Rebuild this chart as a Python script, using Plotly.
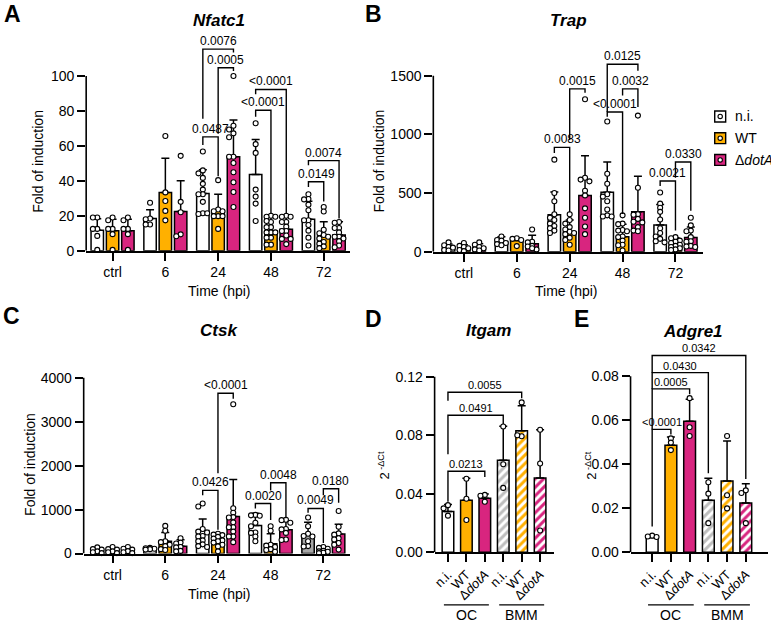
import plotly.graph_objects as go

W, H = 771, 628
FONT = "Liberation Sans, Arial, Helvetica, sans-serif"
ORANGE = "#FFB000"
PINK = "#D8257F"
GREY = "#A7A7A7"
HATCH_GREY = "#BEBEBE"

# ---------------- data ----------------
time_labels = ["ctrl", "6", "24", "48", "72"]
series_labels = ["n.i.", "WT", "Δ<i>dotA</i>"]
cond_labels = ["n.i.", "WT", "Δ<i>dotA</i>", "n.i.", "WT", "Δ<i>dotA</i>"]
cell_groups = ["OC", "BMM"]

# A: Nfatc1
nfatc1_ni_mean = [11.8, 18.5, 32.8, 43.6, 18.1]
nfatc1_ni_sd = [6.5, 5.0, 13.6, 20.0, 10.2]
nfatc1_wt_mean = [11.5, 33.4, 23.0, 11.3, 8.7]
nfatc1_wt_sd = [6.5, 19.6, 9.3, 9.1, 7.9]
nfatc1_dota_mean = [11.5, 22.5, 53.8, 12.3, 9.0]
nfatc1_dota_sd = [6.5, 17.5, 21.1, 8.1, 7.6]
nfatc1_ni_pts = [[19, 19, 12.5, 12.5, 8.5, 0.5], [27.5, 18.5, 18, 15, 15],
                 [56.8, 46, 44.3, 41.7, 38.3, 35, 32.3, 32.3, 28, 21.5, 21, 21.5],
                 [73, 61, 56, 35, 31, 27, 17],
                 [32.3, 29.6, 29.4, 26.4, 23.2, 17.5, 17.5, 14.7, 11.5, 7.5, 3]]
nfatc1_wt_pts = [[19, 17.5, 12.5, 12.5, 9.5, 0.5], [65.7, 33.4, 28.5, 22.8, 17.4],
                 [40.4, 23.6, 22.6, 22.6, 19.8, 19.8, 19.8, 12.5],
                 [20, 19.5, 19.5, 16.5, 17, 13.5, 13.5, 10.5, 10.5, 10.5, 7.5, 7.5, 3.5, 3.5],
                 [25, 22.5, 12, 10, 9, 8, 7, 5, 4, 2.5, 1.5]]
nfatc1_dota_pts = [[19, 17.5, 12.5, 12.5, 9.5, 0.5], [54.3, 28, 22, 9.4, 8.3],
                   [100, 71.5, 69.4, 67.2, 65, 53.8, 53.8, 50.2, 44.9, 39.2, 33.6, 25],
                   [20, 19.5, 19.5, 16.5, 16.5, 13.8, 11.3, 11.3, 8.7, 6.8, 6.8, 3.8],
                   [16.5, 16, 13, 13, 10.5, 8, 8, 7, 5.5, 3, 2]]
# (time index, bar i, bar j, level, leg bottom i, leg bottom j, p)
nfatc1_stats = [(2, 0, 2, 115.4, 75.6, 113.5, "0.0076"),
                (2, 1, 2, 104.7, 67.0, 102.8, "0.0005"),
                (2, 0, 1, 65.2, 60.5, 42.7, "0.0487"),
                (3, 0, 2, 92.3, 89.6, 21.2, "<0.0001"),
                (3, 0, 1, 80.4, 76.7, 21.2, "<0.0001"),
                (4, 0, 2, 51.6, 49.0, 18.5, "0.0074"),
                (4, 0, 1, 39.5, 36.5, 28.2, "0.0149")]

# B: Trap
trap_ni_mean = [40, 87, 315, 507, 228]
trap_ni_sd = [25, 40, 195, 257, 175]
trap_wt_mean = [35, 95, 170, 127, 58]
trap_wt_sd = [25, 20, 100, 107, 62]
trap_dota_mean = [38, 68, 480, 341, 121]
trap_dota_sd = [30, 72, 338, 302, 90]
trap_ni_pts = [[80, 55, 40, 35, 15, 10], [130, 100, 95, 75, 65, 55],
               [785, 500, 430, 320, 290, 270, 240, 220, 200, 180, 160],
               [1110, 665, 580, 490, 470, 430, 360, 310, 300, 300],
               [505, 410, 375, 340, 275, 200, 160, 130, 110, 90, 80]]
trap_wt_pts = [[75, 50, 40, 30, 15, 5], [115, 110, 100, 48],
               [320, 270, 240, 210, 190, 170, 160, 150, 120, 100, 60],
               [310, 240, 235, 185, 180, 175, 130, 125, 95, 60, 55, 10],
               [125, 115, 95, 85, 75, 60, 50, 40, 30, 20, 15]]
trap_dota_pts = [[80, 60, 40, 30, 20, 10], [190, 85, 80, 50, 45, 20, 30],
                 [1300, 630, 615, 600, 520, 480, 370, 290, 215, 150],
                 [1160, 545, 320, 315, 280, 255, 250, 210, 180, 175],
                 [290, 225, 180, 175, 125, 90, 85, 50, 45, 40]]
trap_stats = [(2, 0, 1, 889, 841, 336, "0.0083"),
              (2, 1, 2, 1388, 953, 1354, "0.0015"),
              (3, 0, 2, 1598, 1191, 1542, "0.0125"),
              (3, 1, 2, 1388, 1332, 1234, "0.0032"),
              (3, 0, 1, 1191, 1150, 322, "<0.0001"),
              (4, 0, 1, 603, 561, 182, "0.0021"),
              (4, 1, 2, 765, 631, 350, "0.0330")]

# C: Ctsk
ctsk_ni_mean = [70, 110, 524, 639, 414]
ctsk_ni_sd = [50, 20, 263, 278, 298]
ctsk_wt_mean = [70, 278, 300, 225, 70]
ctsk_wt_sd = [50, 203, 120, 225, 60]
ctsk_dota_mean = [75, 165, 842, 541, 443]
ctsk_dota_sd = [50, 150, 842, 188, 226]
ctsk_ni_pts = [[140, 100, 90, 50, 30, 10], [130, 120, 110, 100, 90],
               [1140, 1070, 560, 500, 480, 400, 390, 300, 280, 210, 170, 150],
               [880, 870, 860, 700, 620, 480, 470, 390, 280],
               [820, 620, 450, 400, 390, 280, 170, 160]]
ctsk_wt_pts = [[150, 100, 90, 50, 30, 10], [630, 520, 280, 260, 200, 170, 100, 80],
               [450, 430, 420, 380, 340, 300, 280, 250, 200, 160, 50],
               [620, 520, 200, 180, 150, 100, 80, 40],
               [150, 130, 110, 60, 50, 40, 20, 10]]
ctsk_dota_pts = [[150, 110, 90, 55, 30, 10], [350, 250, 230, 150, 140, 60, 50],
                 [3400, 1030, 930, 830, 820, 710, 600, 600, 500, 390, 390, 260],
                 [770, 760, 700, 560, 550, 470, 320, 310],
                 [970, 610, 460, 430, 350, 320, 240, 200, 90]]
ctsk_stats = [(2, 1, 2, 3649, 1829, 3521, "<0.0001"),
              (2, 0, 1, 1438, 1326, 540, "0.0426"),
              (3, 0, 1, 1139, 1026, 764, "0.0020"),
              (3, 1, 2, 1611, 1438, 802, "0.0048"),
              (4, 0, 1, 1027, 930, 240, "0.0049"),
              (4, 1, 2, 1476, 1326, 1155, "0.0180")]

# D: Itgam (2^-dCt)
itgam_mean = [0.0279, 0.0355, 0.0369, 0.0629, 0.0831, 0.0508]
itgam_sd = [0.0047, 0.0151, 0.0029, 0.0232, 0.0171, 0.0330]
itgam_pts = [[0.0322, 0.0300, 0.0250], [0.0502, 0.0366, 0.0220], [0.0392, 0.0386, 0.0345],
             [0.0860, 0.0602, 0.0440], [0.1025, 0.0793, 0.0800], [0.0838, 0.0607, 0.0148]]
itgam_stats = [(0, 4, 0.1095, 0.1036, 0.1054, "0.0055"),
               (0, 3, 0.0937, 0.0671, 0.0878, "0.0491"),
               (0, 2, 0.0554, 0.0345, 0.0514, "0.0213")]

# E: Adgre1 (2^-dCt)
adgre1_mean = [0.0067, 0.0486, 0.0595, 0.0236, 0.0323, 0.0224]
adgre1_sd = [0.0008, 0.0037, 0.0100, 0.0100, 0.0182, 0.0087]
adgre1_pts = [[0.0075, 0.0071, 0.0069], [0.0517, 0.0498, 0.0464], [0.0700, 0.0568, 0.0528],
              [0.0318, 0.0266, 0.0132], [0.0528, 0.0259, 0.0199], [0.0281, 0.0269, 0.0132]]
adgre1_stats = [(0, 5, 0.0894, 0.0816, 0.0333, "0.0342"),
                (0, 3, 0.0816, 0.0742, 0.0359, "0.0430"),
                (0, 2, 0.0742, 0.0558, 0.0718, "0.0005"),
                (0, 1, 0.0558, 0.0117, 0.0535, "<0.0001")]

# ---------------- layout geometry (pixels) ----------------
GEOM = {
    "A": dict(k=1, left=83.5, right=348, first=110, step=53.0, y0=254, ytop=77, tmax=100, dtop=28),
    "B": dict(k=2, left=432, right=703, first=462.7, step=53.1, y0=255, ytop=76.7, tmax=1500, dtop=28),
    "C": dict(k=3, left=81, right=348, first=110, step=52.9, y0=560.7, ytop=382.7, tmax=4000, dtop=370),
    "D": dict(k=4, left=433.3, right=553.3, first=446.7, step=18.5, y0=559.3, ytop=381.7, tmax=0.12, dtop=372),
    "E": dict(k=5, left=630, right=768, first=651.7, step=18.8, y0=559.3, ytop=381, tmax=0.08, dtop=340),
}

fig = go.Figure()
shapes, annotations = [], []
layout = {}


def ids(k):
    return ("x" if k == 1 else f"x{k}", "y" if k == 1 else f"y{k}")


def yppu(g):
    return (g["y0"] - g["ytop"]) / g["tmax"]


def swarm(center, vals, g, thr=4.0, step=4.4):
    placed, xs = [], []
    yp = yppu(g)
    for v in vals:
        py = v * yp
        best, best_d = 0.0, -1.0
        for kk in [0, -1, 1]:
            px = kk * step
            md = min([((px - a) ** 2 + (py - b) ** 2) ** 0.5 for a, b in placed] or [99.0])
            if md >= thr:
                best = px
                break
            if md > best_d + 0.6:
                best, best_d = px, md
        placed.append((best, py))
        xs.append(center + best / g["step"])
    return xs


def setup_axes(g, yticks, yticktext, xticks, xticktext, tickangle=0, xfont=14):
    k = g["k"]
    xa, ya = ids(k)
    xr = [(g["left"] - g["first"]) / g["step"], (g["right"] - g["first"]) / g["step"]]
    yr = [0, g["tmax"] * (g["y0"] - g["dtop"]) / (g["y0"] - g["ytop"])]
    xkey = "xaxis" if k == 1 else f"xaxis{k}"
    ykey = "yaxis" if k == 1 else f"yaxis{k}"
    layout[xkey] = dict(domain=[g["left"] / W, g["right"] / W], range=xr, anchor=ya,
                        showline=True, linecolor="black", linewidth=1.6, ticks="outside",
                        ticklen=8, tickwidth=1.5, tickcolor="black", tickvals=xticks,
                        ticktext=xticktext, tickangle=tickangle, showgrid=False, zeroline=False,
                        tickfont=dict(family=FONT, size=xfont, color="black"), fixedrange=True)
    layout[ykey] = dict(domain=[1 - g["y0"] / H, 1 - g["dtop"] / H], range=yr, anchor=xa,
                        showline=False, ticks="outside", ticklen=8, tickwidth=1.5,
                        tickcolor="black", tickvals=yticks, ticktext=yticktext,
                        showgrid=False, zeroline=False,
                        tickfont=dict(family=FONT, size=14, color="black"), fixedrange=True)
    shapes.append(dict(type="line", xref="paper", yref=ya, x0=g["left"] / W, x1=g["left"] / W,
                       y0=0, y1=g["tmax"], line=dict(color="black", width=1.6)))


def add_brackets(g, stats, fsize):
    xa, ya = ids(g["k"])
    for (xi, xj, lvl, bi, bj, txt) in stats:
        path = f"M {xi},{bi} L {xi},{lvl} L {xj},{lvl} L {xj},{bj}"
        shapes.append(dict(type="path", xref=xa, yref=ya, path=path,
                           line=dict(color="black", width=1.4)))
        annotations.append(dict(x=(xi + xj) / 2, y=lvl, xref=xa, yref=ya, text=txt,
                                showarrow=False, xanchor="center", yanchor="bottom", yshift=-1,
                                font=dict(family=FONT, size=fsize, color="black")))


OFF, BW = 0.29, 0.235
PT_MARKER = dict(size=5, color="white", line=dict(color="black", width=1.1))


def time_panel(g, means, sds, pts, stats, ni_colors=None):
    xa, ya = ids(g["k"])
    colors = [["white"] * 5 if ni_colors is None else ni_colors, [ORANGE] * 5, [PINK] * 5]
    for s in range(3):
        xs = [t + (s - 1) * OFF for t in range(5)]
        fig.add_trace(go.Bar(x=xs, y=means[s], width=BW, xaxis=xa, yaxis=ya,
                             marker=dict(color=colors[s], line=dict(color="black", width=1.5)),
                             error_y=dict(type="data", array=sds[s], arrayminus=[0] * 5,
                                          symmetric=False, color="black", thickness=1.5, width=4),
                             showlegend=False, hoverinfo="skip"))
    for s in range(3):
        px, py = [], []
        for t in range(5):
            c = t + (s - 1) * OFF
            px += swarm(c, pts[s][t], g)
            py += pts[s][t]
        fig.add_trace(go.Scatter(x=px, y=py, mode="markers", xaxis=xa, yaxis=ya, cliponaxis=False,
                                 marker=PT_MARKER, showlegend=False, hoverinfo="skip"))
    conv = [(t + (i - 1) * OFF, t + (j - 1) * OFF, lvl, bi, bj, txt)
            for (t, i, j, lvl, bi, bj, txt) in stats]
    add_brackets(g, conv, 12)


def cond_panel(g, mean, sd, pts, stats):
    xa, ya = ids(g["k"])
    solid = [ORANGE if i == 1 else PINK if i == 2 else "white" for i in range(3)]
    fig.add_trace(go.Bar(x=[0, 1, 2], y=mean[:3], width=0.63, xaxis=xa, yaxis=ya,
                         marker=dict(color=solid, line=dict(color="black", width=1.5)),
                         error_y=dict(type="data", array=sd[:3], arrayminus=[0] * 3, symmetric=False,
                                      color="black", thickness=1.5, width=4),
                         showlegend=False, hoverinfo="skip"))
    for i, col in zip([3, 4, 5], [HATCH_GREY, ORANGE, PINK]):
        fig.add_trace(go.Bar(x=[i], y=[mean[i]], width=0.63, xaxis=xa, yaxis=ya,
                             marker=dict(color="white", line=dict(color="black", width=1.5),
                                         pattern=dict(shape="/", fgcolor=col, bgcolor="white",
                                                      fgopacity=1, size=6, solidity=0.5,
                                                      fillmode="overlay")),
                             error_y=dict(type="data", array=[sd[i]], arrayminus=[0],
                                          symmetric=False, color="black", thickness=1.5, width=4),
                             showlegend=False, hoverinfo="skip"))
    px, py = [], []
    for i in range(6):
        px += swarm(i, pts[i], g)
        py += pts[i]
    fig.add_trace(go.Scatter(x=px, y=py, mode="markers", xaxis=xa, yaxis=ya, cliponaxis=False,
                             marker=PT_MARKER, showlegend=False, hoverinfo="skip"))
    add_brackets(g, stats, 11)
    for gi, name in enumerate(cell_groups):
        a, b = gi * 3, gi * 3 + 2
        shapes.append(dict(type="line", xref=xa, yref="paper", x0=a - 0.22, x1=b + 0.22,
                           y0=1 - 612.7 / H, y1=1 - 612.7 / H, line=dict(color="black", width=1.4)))
        annotations.append(dict(x=(a + b) / 2, y=1 - 622.5 / H, xref=xa, yref="paper", text=name,
                                showarrow=False, xanchor="center", yanchor="middle",
                                font=dict(family=FONT, size=14, color="black")))


# ---- build panels ----
gA, gB, gC, gD, gE = (GEOM[k] for k in "ABCDE")
setup_axes(gA, [0, 20, 40, 60, 80, 100], ["0", "20", "40", "60", "80", "100"],
           list(range(5)), time_labels)
time_panel(gA, [nfatc1_ni_mean, nfatc1_wt_mean, nfatc1_dota_mean],
           [nfatc1_ni_sd, nfatc1_wt_sd, nfatc1_dota_sd],
           [nfatc1_ni_pts, nfatc1_wt_pts, nfatc1_dota_pts], nfatc1_stats)

setup_axes(gB, [0, 500, 1000, 1500], ["0", "500", "1000", "1500"], list(range(5)), time_labels)
time_panel(gB, [trap_ni_mean, trap_wt_mean, trap_dota_mean],
           [trap_ni_sd, trap_wt_sd, trap_dota_sd],
           [trap_ni_pts, trap_wt_pts, trap_dota_pts], trap_stats)

setup_axes(gC, [0, 1000, 2000, 3000, 4000], ["0", "1000", "2000", "3000", "4000"],
           list(range(5)), time_labels)
time_panel(gC, [ctsk_ni_mean, ctsk_wt_mean, ctsk_dota_mean],
           [ctsk_ni_sd, ctsk_wt_sd, ctsk_dota_sd],
           [ctsk_ni_pts, ctsk_wt_pts, ctsk_dota_pts], ctsk_stats,
           ni_colors=["white"] * 4 + [GREY])

setup_axes(gD, [0, 0.04, 0.08, 0.12], ["0.00", "0.04", "0.08", "0.12"],
           list(range(6)), cond_labels, tickangle=-45, xfont=13)
cond_panel(gD, itgam_mean, itgam_sd, itgam_pts, itgam_stats)

setup_axes(gE, [0, 0.02, 0.04, 0.06, 0.08], ["0.00", "0.02", "0.04", "0.06", "0.08"],
           list(range(6)), cond_labels, tickangle=-45, xfont=13)
cond_panel(gE, adgre1_mean, adgre1_sd, adgre1_pts, adgre1_stats)


# ---- text annotations (pixel positions) ----
def ptext(x, y, text, size, angle=0, anchor="center"):
    annotations.append(dict(x=x / W, y=1 - y / H, xref="paper", yref="paper", text=text,
                            showarrow=False, textangle=angle, xanchor=anchor, yanchor="middle",
                            font=dict(family=FONT, size=size, color="black")))


for letter, (lx, ly) in zip("ABCDE", [(10, 14), (372, 14), (9, 320), (372, 323), (581, 323)]):
    ptext(lx, ly, f"<b>{letter}</b>", 23)
ptext(217, 21, "<b><i>Nfatc1</i></b>", 17)
ptext(568, 21, "<b><i>Trap</i></b>", 17)
ptext(217, 335, "<b><i>Ctsk</i></b>", 17)
ptext(487, 335, "<b><i>Itgam</i></b>", 17)
ptext(693, 336, "<b><i>Adgre1</i></b>", 17)
ptext(35, 163, "Fold of induction", 14, -90)
ptext(377, 163, "Fold of induction", 14, -90)
ptext(27, 470, "Fold of induction", 14, -90)
ptext(217, 295, "Time (hpi)", 14)
ptext(566, 295, "Time (hpi)", 14)
ptext(217, 602, "Time (hpi)", 14)
ptext(382, 472, "2<sup> -ΔCt</sup>", 13, -90)
ptext(590, 472, "2<sup> -ΔCt</sup>", 13, -90)

# legend
leg_fill = ["white", ORANGE, PINK]
for i, (lab, col) in enumerate(zip(series_labels, leg_fill)):
    cy = 118 + i * 22
    shapes.append(dict(type="rect", xref="paper", yref="paper",
                       x0=(720 - 5.5) / W, x1=(720 + 5.5) / W,
                       y0=1 - (cy + 5.5) / H, y1=1 - (cy - 5.5) / H,
                       fillcolor=col, line=dict(color="black", width=1.4)))
    shapes.append(dict(type="circle", xref="paper", yref="paper",
                       x0=(720 - 2.2) / W, x1=(720 + 2.2) / W,
                       y0=1 - (cy + 2.2) / H, y1=1 - (cy - 2.2) / H,
                       fillcolor="white", line=dict(color="black", width=1.1)))
    ptext(733, cy, lab, 14, anchor="left")

fig.update_layout(width=W, height=H, margin=dict(l=0, r=0, t=0, b=0, pad=0),
                  plot_bgcolor="white", paper_bgcolor="white", showlegend=False,
                  barmode="overlay", shapes=shapes, annotations=annotations,
                  font=dict(family=FONT, color="black"), **layout)
fig.write_html("out.html")
